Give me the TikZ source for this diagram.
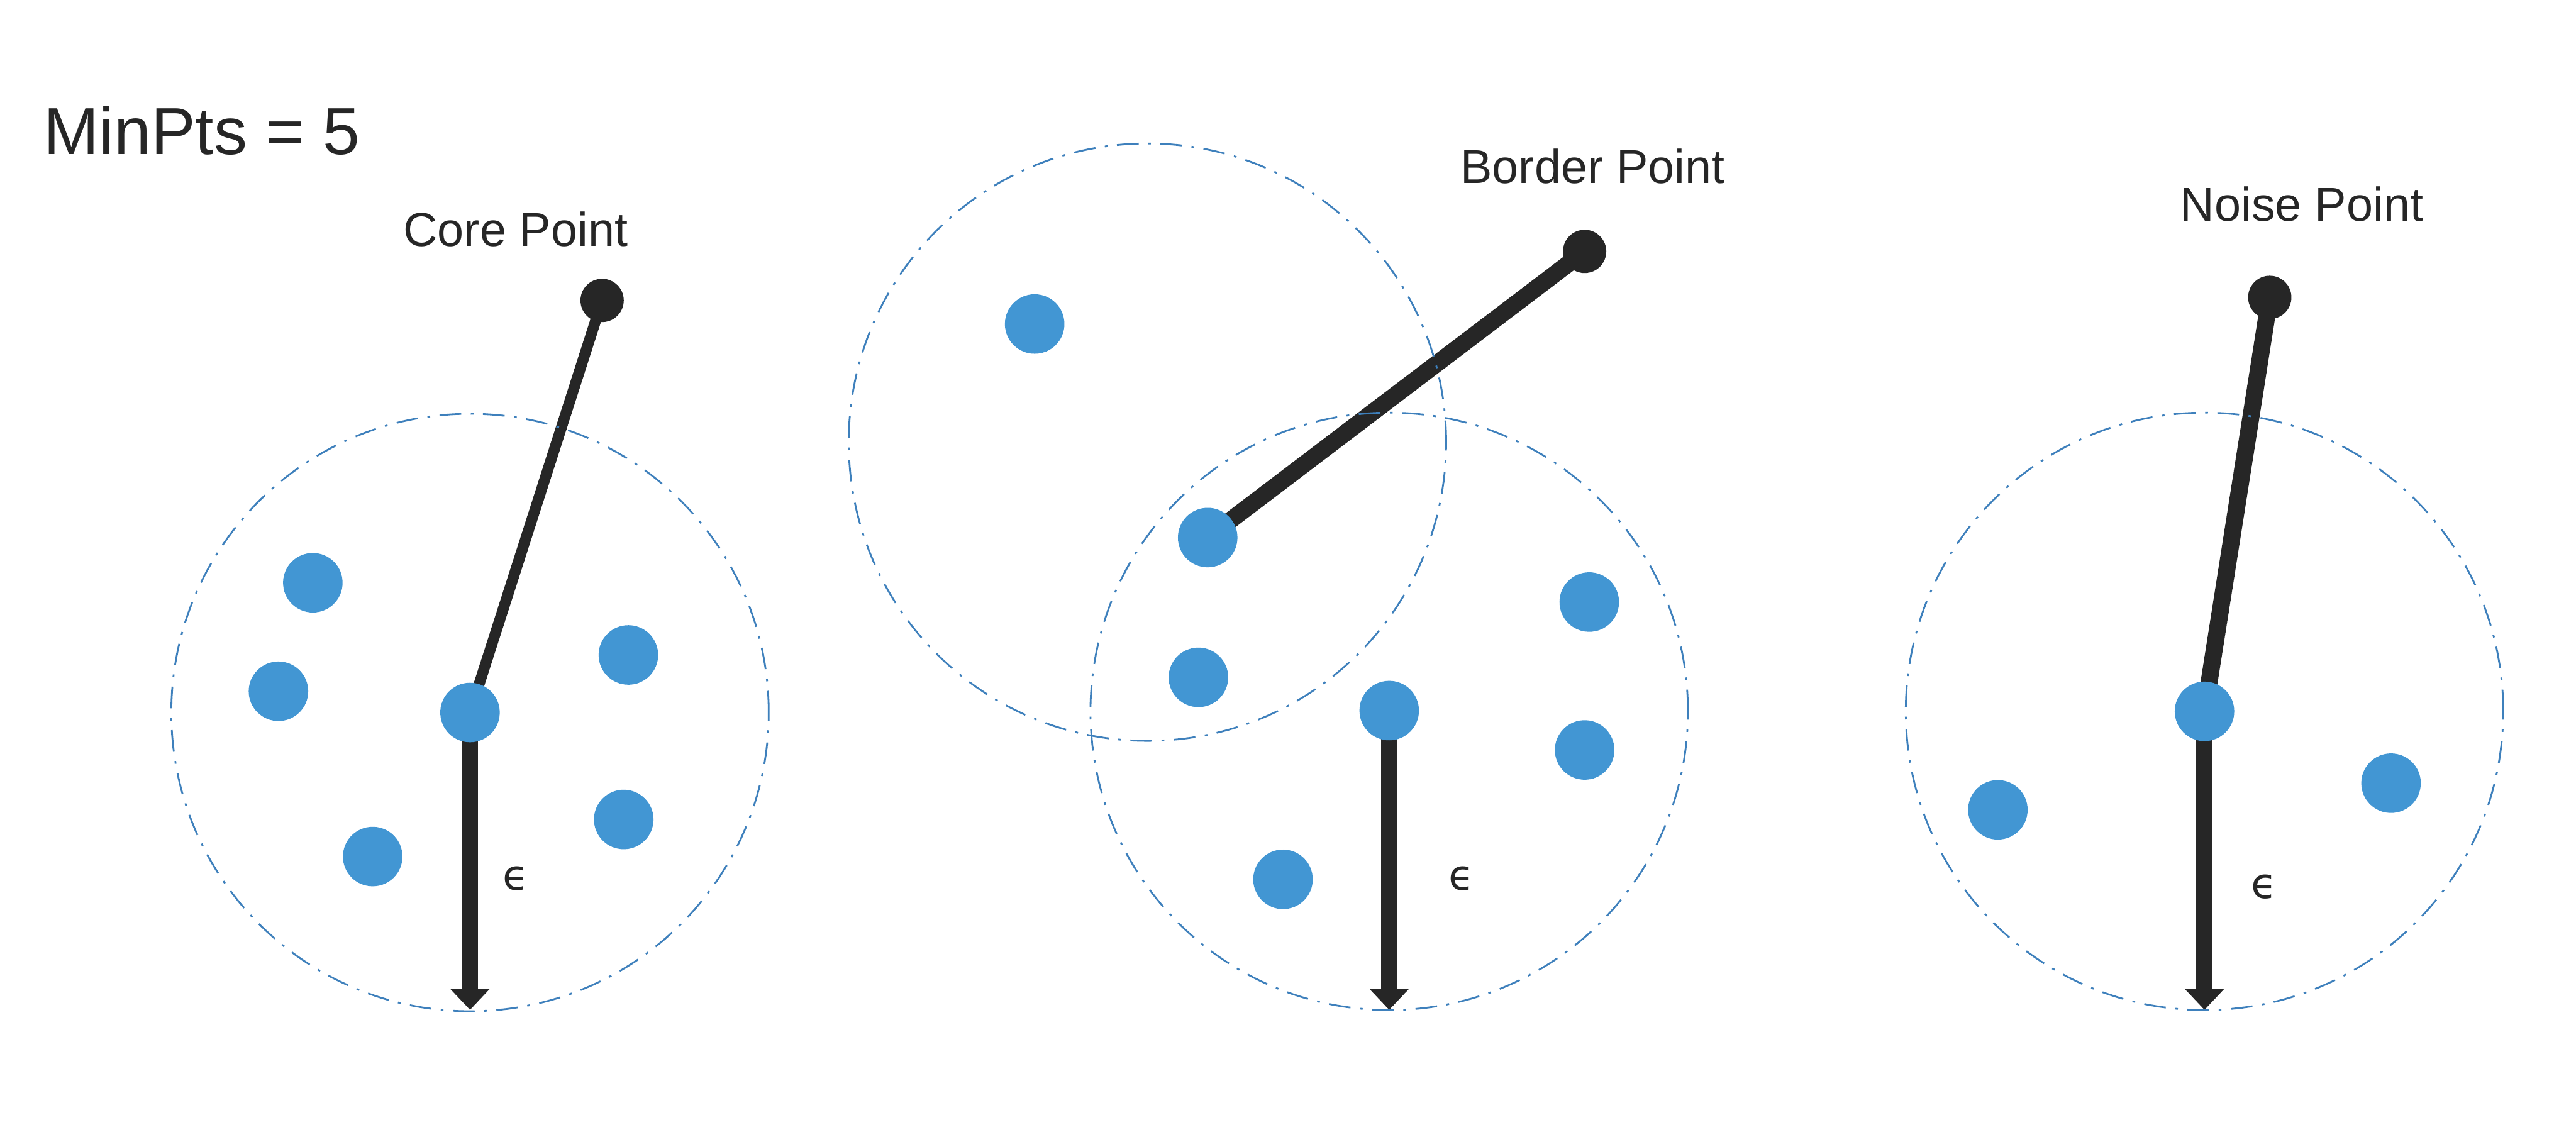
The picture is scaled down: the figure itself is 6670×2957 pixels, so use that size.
\documentclass[tikz,border=0pt]{standalone}
\usepackage{fontspec}
\setmainfont{Liberation Sans}
\newfontfamily\epsfont{DejaVu Sans}
\usetikzlibrary{arrows.meta}
\definecolor{ptblue}{RGB}{66,150,211}
\definecolor{ringblue}{RGB}{62,128,188}
\definecolor{ink}{RGB}{38,38,38}
\pgfdeclarelayer{background}
\pgfsetlayers{background,main}
\begin{document}
\begin{tikzpicture}[x=0.01cm,y=-0.01cm,
  pt/.style={circle,fill=ptblue,inner sep=0,minimum size=1.54cm},
  knob/.style={circle,fill=ink,inner sep=0,minimum size=1.12cm},
  ring/.style={draw=ringblue,line width=1.3pt,dash pattern=on 16pt off 7pt on 2pt off 7pt},
  stick/.style={draw=ink,line width=12.5pt},
  thinstick/.style={draw=ink,line width=8pt},
  radarrow/.style={draw=ink,line width=12pt,-{Triangle[width=1cm,length=0.55cm]}},
  lbl/.style={inner sep=0,anchor=base,font=\fontsize{35}{40}\selectfont,text=ink},
  epslbl/.style={inner sep=0,anchor=base,font=\epsfont\fontsize{31}{36}\selectfont,text=ink}]
\begin{pgfonlayer}{background}
\fill[white] (0,0) rectangle (6670,2957);
\end{pgfonlayer}
\useasboundingbox (0,0) rectangle (6670,2957);

% title
\node[inner sep=0,anchor=base west,font=\fontsize{49}{56}\selectfont,text=ink] (minpts) at (113,399) {MinPts = 5};

% ---------- core point ----------
\coordinate (ringA) at (1217,1845);
\draw[ring] (ringA) circle[radius=7.73cm];
\node[pt] (a0) at (1217,1845) {};
\node[pt] (a1) at (810,1509) {};
\node[pt] (a2) at (721,1790) {};
\node[pt] (a3) at (1627,1696) {};
\node[pt] (a4) at (1615,2122) {};
\node[pt] (a5) at (965,2218) {};
\node[knob] (ka) at (1559,778) {};
\coordinate (aend) at (1217,2615);
\node[lbl] (lcore) at (1335,638) {Core Point};
\node[epslbl] (epsA) at (1335,2305) {ϵ};
\begin{pgfonlayer}{background}
\draw[thinstick] (ka.center) -- (a0.center);
\draw[radarrow] (a0.center) -- (aend);
\end{pgfonlayer}

% ---------- border point ----------
\coordinate (ringB1) at (2971,1145);
\coordinate (ringB2) at (3597,1842);
\draw[ring] (ringB1) circle[radius=7.73cm];
\draw[ring] (ringB2) circle[radius=7.73cm];
\node[pt] (b1) at (2679,839) {};
\node[pt] (b2) at (3127,1392) {};
\node[pt] (b3) at (3103,1754) {};
\node[pt] (b0) at (3597,1840) {};
\node[pt] (b4) at (4115,1559) {};
\node[pt] (b5) at (4103,1942) {};
\node[pt] (b6) at (3322,2277) {};
\node[knob] (kb) at (4103,651) {};
\coordinate (bend) at (3597,2615);
\node[lbl] (lborder) at (4124,475) {Border Point};
\node[epslbl] (epsB) at (3784,2305) {ϵ};
\begin{pgfonlayer}{background}
\draw[stick] (kb.center) -- (b2.center);
\draw[radarrow] (b0.center) -- (bend);
\end{pgfonlayer}

% ---------- noise point ----------
\coordinate (ringC) at (5708,1842);
\draw[ring] (ringC) circle[radius=7.73cm];
\node[pt] (c0) at (5708,1842) {};
\node[pt] (c1) at (5173,2097) {};
\node[pt] (c2) at (6191,2028) {};
\node[knob] (kc) at (5877,770) {};
\coordinate (cend) at (5708,2615);
\node[lbl] (lnoise) at (5960,572) {Noise Point};
\node[epslbl] (epsC) at (5863,2326) {ϵ};
\begin{pgfonlayer}{background}
\draw[stick] (kc.center) -- (c0.center);
\draw[radarrow] (c0.center) -- (cend);
\end{pgfonlayer}
\end{tikzpicture}
\end{document}
